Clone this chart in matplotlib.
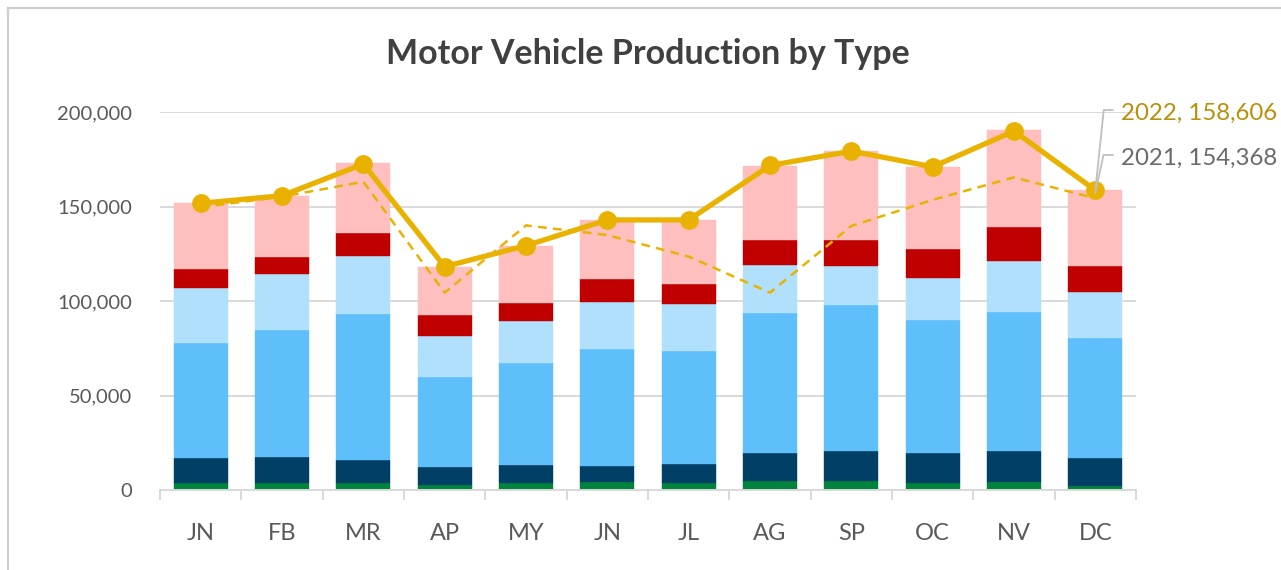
import matplotlib
matplotlib.use("Agg")
import matplotlib.pyplot as plt
import numpy as np
from matplotlib.lines import Line2D

plt.rcParams['font.family'] = ['Lato', 'DejaVu Sans']

months = ["JN", "FB", "MR", "AP", "MY", "JN", "JL", "AG", "SP", "OC", "NV", "DC"]

# Stacked segments (thousands of units), bottom to top
seg_green     = [3.5, 3.5, 3.5, 2.6, 3.5, 4.1, 3.5, 4.9, 4.9, 3.5, 4.2, 2.1]
seg_navy      = [13.6, 14.1, 12.5, 9.7, 9.9, 8.8, 10.4, 14.5, 15.9, 15.9, 16.4, 15.0]
seg_blue      = [60.8, 67.2, 77.3, 47.3, 53.8, 61.7, 59.8, 74.4, 77.3, 70.5, 73.8, 63.5]
seg_lightblue = [28.8, 29.3, 30.5, 22.1, 22.4, 25.0, 24.5, 25.2, 20.4, 22.1, 26.6, 24.2]
seg_red       = [10.1, 9.4, 12.0, 11.1, 9.5, 11.9, 11.0, 13.1, 13.8, 15.7, 18.2, 13.7]
seg_pink      = [34.9, 32.1, 37.0, 25.0, 30.2, 31.4, 33.7, 39.5, 47.1, 43.0, 51.1, 40.1]

total_2022 = [151.7, 155.7, 172.5, 118.2, 129.3, 142.9, 142.9, 171.7, 179.3, 171.0, 189.9, 158.606]
total_2021 = [149.6, 155.2, 163.1, 104.4, 140.0, 134.9, 123.5, 104.4, 139.7, 153.5, 165.4, 154.368]

segments = [seg_green, seg_navy, seg_blue, seg_lightblue, seg_red, seg_pink]
seg_colors = ["#00843D", "#003F66", "#5EBFFB", "#B0E0FC", "#C00000", "#FFBFBF"]

W, H = 1281, 570
fig = plt.figure(figsize=(W / 100, H / 100), dpi=100)

# Axes placement in pixels
left, right, top, bottom = 160, 1136, 112, 490
ax = fig.add_axes([left / W, (H - bottom) / H, (right - left) / W, (bottom - top) / H])

x = np.arange(len(months))
base = np.zeros(len(months))
for vals, col in zip(segments, seg_colors):
    v = np.array(vals) * 1000
    ax.bar(x, v, bottom=base, width=0.665, color=col, edgecolor=col, linewidth=0.3, zorder=2)
    base += v

gold = "#EAB200"
ax.plot(x, np.array(total_2021) * 1000, color=gold, lw=1.8, ls=(0, (3.5, 2.5)), zorder=3)
ax.plot(x, np.array(total_2022) * 1000, color=gold, lw=3.8, marker="o", markersize=12.5,
        zorder=4)

ax.set_xlim(-0.5, len(months) - 0.5)
ax.set_ylim(0, 200000)
ax.set_yticks([0, 50000, 100000, 150000, 200000])
ax.set_yticklabels([f"{v:,}" for v in [0, 50000, 100000, 150000, 200000]])
ax.set_xticks(x)
ax.set_xticklabels(months)
ax.set_xticks(np.arange(-0.5, len(months)), minor=True)

ax.grid(axis="y", color="#D9D9D9", lw=1.4, zorder=0)
ax.set_axisbelow(True)
for s in ["top", "right", "left"]:
    ax.spines[s].set_visible(False)
ax.spines["bottom"].set_color("#D9D9D9")
ax.spines["bottom"].set_linewidth(1.4)

ax.tick_params(axis="y", length=0, pad=20, labelsize=14.5, labelcolor="#595959")
ax.tick_params(axis="x", which="major", length=0, pad=24, labelsize=17, labelcolor="#595959")
ax.tick_params(axis="x", which="minor", length=7.5, width=1.4, color="#D9D9D9", direction="out")

fig.text((left + right) / 2 / W, (H - 64) / H, "Motor Vehicle Production by Type",
         ha="center", va="baseline", fontsize=24.5, fontweight="bold", color="#404040")

# Leader-line labels for December
lead_col = "#BFBFBF"
ax.annotate("", xy=(x[-1], total_2022[-1] * 1000), xytext=(1113, H - 110),
            textcoords="figure pixels", annotation_clip=False,
            arrowprops=dict(arrowstyle="-", color=lead_col, lw=1.3, shrinkA=0, shrinkB=0,
                            connectionstyle="angle,angleA=180,angleB=84,rad=0"), zorder=6)
ax.annotate("", xy=(x[-1], total_2022[-1] * 1000 - 1500), xytext=(1113, H - 155),
            textcoords="figure pixels", annotation_clip=False,
            arrowprops=dict(arrowstyle="-", color=lead_col, lw=1.3, shrinkA=0, shrinkB=0,
                            connectionstyle="angle,angleA=180,angleB=78,rad=0"), zorder=6)
fig.text(1121 / W, (H - 120) / H, f"2022, {int(round(total_2022[-1] * 1000)):,}",
         ha="left", va="baseline", fontsize=17.3, color="#B8900A")
fig.text(1121 / W, (H - 165) / H, f"2021, {int(round(total_2021[-1] * 1000)):,}",
         ha="left", va="baseline", fontsize=17.3, color="#6A6A6A")

# Chart-area frame (partially cropped)
fig.add_artist(Line2D([7.5 / W, 7.5 / W], [0, (H - 8) / H], color="#CFCFCF", lw=1.6,
                      transform=fig.transFigure))
fig.add_artist(Line2D([7.5 / W, 1], [(H - 8) / H, (H - 8) / H], color="#CFCFCF", lw=1.6,
                      transform=fig.transFigure))

fig.savefig("out.png", dpi=100)
